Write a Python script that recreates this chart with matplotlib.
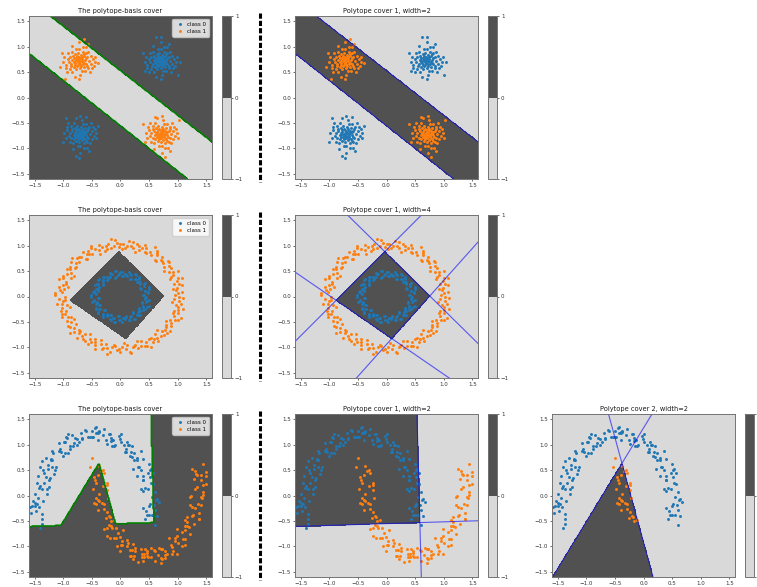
#--------------------- LIBRARIES ---------------------#

import numpy as np
import matplotlib.pyplot as plt
from matplotlib.lines import Line2D

#-----------------------------------------------------#

# point clouds, "x,y" pairs in hundredths
XOR_C0 = (
    "70,72 74,75 67,70 72,66 64,78 77,70 69,80 62,68 80,74 73,84 66,62 58,74 82,65 71,58 54,80 76,90 "
    "84,80 60,60 68,88 52,70 87,72 78,60 63,85 56,66 75,79 65,74 72,71 79,68 61,77 68,64 50,76 90,66 "
    "74,52 57,90 82,88 47,64 85,58 70,95 64,55 94,76 54,56 76,66 66,82 59,82 81,78 73,62 67,76 71,77 "
    "78,82 62,72 69,68 44,80 92,58 76,100 58,50 86,90 51,88 80,52 65,96 97,70 42,70 72,45 90,82 55,62 "
    "84,62 63,64 75,72 68,73 60,70 79,86 46,58 88,50 70,108 95,62 49,50 81,100 62,40 98,80 40,88 70,36 "
    "85,105 57,102 100,45 62,118 43,52 104,70 71,118 "
    "-70,-72 -66,-75 -73,-70 -68,-66 -76,-78 -63,-70 -71,-80 -78,-68 -60,-74 -67,-84 -74,-62 -82,-74 "
    "-58,-65 -69,-58 -86,-80 -64,-90 -56,-80 -80,-60 -72,-88 -88,-70 -53,-72 -62,-60 -77,-85 -84,-66 "
    "-65,-79 -75,-74 -68,-71 -61,-68 -79,-77 -72,-64 -90,-76 -50,-66 -66,-52 -83,-90 -58,-88 -93,-64 "
    "-55,-58 -70,-95 -76,-55 -46,-76 -86,-56 -64,-66 -74,-82 -81,-82 -59,-78 -67,-62 -73,-76 -69,-77 "
    "-62,-82 -78,-72 -71,-68 -96,-80 -48,-58 -64,-100 -82,-50 -54,-90 -89,-88 -60,-52 -75,-96 -43,-70 "
    "-98,-70 -68,-45 -50,-82 -85,-62 -56,-62 -77,-64 -65,-72 -72,-73 -80,-70 -61,-86 -94,-58 -52,-50 "
    "-70,-108 -45,-62 -91,-50 -59,-100 -78,-40 -42,-80 -100,-88 -70,-36 -55,-105 -83,-102 -60,-38 "
    "-95,-40 -40,-55 -78,-114 -72,-118"
)
XOR_C1 = (
    "-72,72 -68,75 -75,70 -70,66 -78,78 -65,70 -73,80 -80,68 -62,74 -69,84 -76,62 -84,74 -60,65 -71,58 "
    "-88,80 -66,90 -58,80 -82,60 -74,88 -90,70 -55,72 -64,60 -79,85 -86,66 -67,79 -77,74 -70,71 -63,68 "
    "-81,77 -74,64 -92,76 -52,66 -68,52 -85,90 -60,88 -95,64 -57,58 -72,95 -78,55 -48,76 -88,56 -66,66 "
    "-76,82 -83,82 -61,78 -69,62 -75,76 -71,77 -64,82 -80,72 -73,68 -98,80 -50,58 -66,100 -84,50 -56,90 "
    "-91,88 -62,52 -77,96 -45,70 -100,70 -70,45 -52,82 -87,62 -58,62 -79,64 -67,72 -74,73 -82,70 -63,86 "
    "-96,58 -54,50 -72,108 -47,62 -93,50 -61,100 -80,40 -44,80 -102,88 -72,36 -57,105 -85,102 -64,115 "
    "-97,37 -40,67 -105,60 "
    "72,-72 76,-75 69,-70 74,-66 66,-78 79,-70 71,-80 64,-68 82,-74 75,-84 68,-62 60,-74 84,-65 73,-58 "
    "56,-80 78,-90 86,-80 62,-60 70,-88 54,-70 89,-72 80,-60 65,-85 58,-66 77,-79 67,-74 74,-71 81,-68 "
    "63,-77 70,-64 52,-76 92,-66 76,-52 59,-90 84,-88 49,-64 87,-58 72,-95 66,-55 96,-76 56,-56 78,-66 "
    "68,-82 61,-82 83,-78 75,-62 69,-76 73,-77 80,-82 64,-72 71,-68 46,-80 94,-58 78,-100 60,-50 88,-90 "
    "53,-88 82,-52 67,-96 99,-70 44,-70 74,-45 92,-82 57,-62 86,-62 65,-64 77,-72 70,-73 62,-70 81,-86 "
    "48,-58 90,-50 72,-108 97,-62 51,-50 83,-100 64,-40 100,-80 42,-88 72,-36 87,-105 59,-102 102,-45 "
    "78,-116 40,-52 61,-38"
)

RING_C0 = (
    "45,0 40,3 48,9 42,11 49,18 34,16 41,24 34,24 34,29 28,28 32,38 25,35 26,45 16,34 16,44 11,41 "
    "8,44 3,40 0,49 -4,43 -9,51 -10,37 -16,44 -18,38 -23,39 -23,33 -31,38 -30,30 -40,33 -31,22 -41,24 "
    "-38,18 -42,15 -39,10 -48,9 -43,4 -52,0 -38,-3 -46,-8 -41,-11 -42,-15 -36,-17 -42,-25 -35,-25 "
    "-40,-33 -27,-27 -30,-36 -24,-34 -23,-39 -17,-36 -17,-46 -11,-42 -9,-51 -3,-38 0,-47 4,-42 8,-44 "
    "10,-39 17,-46 18,-39 26,-45 22,-31 30,-36 30,-30 34,-29 33,-23 42,-25 39,-18 49,-18 37,-10 46,-8 "
    "42,-4 "
    "41,2 48,6 43,10 49,15 36,15 41,21 42,27 34,26 30,28 32,35 27,35 27,43 18,35 18,43 15,48 9,42 "
    "5,41 2,48 -2,44 -7,51 -8,38 -14,44 -19,46 -20,38 -22,35 -29,38 -30,32 -38,34 -31,24 -39,25 "
    "-44,23 -40,16 -39,12 -47,10 -44,6 -51,2 -39,-2 -46,-6 -49,-11 -41,-13 -38,-16 -43,-22 -37,-24 "
    "-40,-31 -29,-26 -31,-34 -30,-40 -23,-36 -19,-36 -18,-44 -13,-42 -11,-50 -5,-39 -2,-46 2,-50 6,-43 "
    "9,-40 14,-46 17,-41 24,-45 21,-33 28,-36 34,-37 32,-29 33,-25 40,-26 39,-20 47,-20 37,-12 45,-10 "
    "50,-7 43,-2"
)
RING_C1 = (
    "102,0 95,3 108,9 97,12 98,17 108,23 93,25 99,30 100,36 87,35 92,43 100,51 84,49 89,56 84,59 76,57 "
    "83,69 74,66 71,71 72,78 60,72 63,81 63,89 53,82 51,88 45,85 44,95 43,102 33,91 32,99 28,103 22,96 "
    "18,99 15,108 8,95 5,104 "
    "0,103 -3,97 -10,110 -12,99 -17,95 -22,104 -26,99 -27,90 -37,101 -37,92 -44,94 -51,100 -49,84 "
    "-56,89 -58,83 -66,87 -61,73 -69,77 -76,76 -72,67 -78,66 -87,68 -79,55 -88,57 -94,54 -87,46 -93,44 "
    "-87,37 -100,36 -107,35 -95,25 -101,23 -107,19 -99,14 -102,9 -115,6 "
    "-97,0 -107,-4 -101,-9 -111,-14 -94,-16 -102,-22 -104,-28 -95,-29 -97,-35 -102,-41 -87,-41 -94,-48 "
    "-87,-51 -92,-58 -77,-54 -82,-62 -82,-69 -73,-66 -72,-72 -76,-81 -62,-74 -65,-83 -62,-88 -54,-83 "
    "-52,-89 -45,-84 -45,-96 -44,-104 -34,-94 -33,-103 -25,-93 -23,-101 -19,-108 -14,-100 -9,-98 -6,-106 "
    "0,-109 3,-100 9,-104 12,-95 19,-110 21,-100 25,-95 31,-102 35,-97 35,-87 46,-98 45,-89 49,-84 "
    "56,-90 59,-84 66,-88 61,-73 70,-77 76,-76 72,-68 77,-65 86,-67 79,-55 88,-57 89,-52 87,-46 100,-46 "
    "93,-39 91,-33 101,-33 100,-27 109,-25 97,-17 106,-15 102,-9 94,-5 "
    "100,6 92,14 103,25 108,36 89,39 91,49 76,50 85,68 73,69 62,70 63,85 60,97 43,87 38,96 26,87 "
    "22,107 11,99 2,93 -6,106 -17,113 -23,94 -33,98 -36,83 -52,96 -55,83 -58,73 -73,77 -85,76 -78,58 "
    "-88,54 -81,41 -101,40 -96,28 -91,19 -105,12 -114,3 -97,-6 -102,-15 -88,-21 -103,-35 -92,-40 "
    "-82,-44 -88,-59 -89,-71 -70,-67 -68,-77 -54,-73 -57,-93 -45,-90 -34,-86 -30,-102 -23,-112 -11,-96 "
    "-3,-103 6,-91 16,-108 23,-97 29,-88 42,-97 54,-100 54,-81 64,-81 63,-66 82,-72 80,-60 79,-49 "
    "95,-47 106,-42 93,-28 101,-20 90,-10 109,-3"
)

MOON_C0 = (
    "60,-57 49,-38 55,-39 43,-46 45,-31 64,-41 47,-38 59,-19 67,-12 40,-24 60,-29 52,-16 50,-21 55,-2 "
    "39,8 62,-9 60,7 63,-6 53,24 43,15 36,13 40,31 57,22 48,12 48,45 52,36 40,31 56,44 35,50 39,39 "
    "54,52 29,39 51,51 50,62 33,56 39,72 30,56 21,53 20,75 24,70 36,87 29,74 29,70 9,85 7,85 14,99 "
    "13,99 24,83 16,77 19,85 20,97 11,106 10,91 -1,110 1,105 -11,98 -13,109 6,99 -15,98 -3,117 1,121 "
    "-26,109 -9,99 -17,112 -23,102 -18,121 -37,125 -14,108 -20,120 -17,107 -29,131 -39,122 -49,114 "
    "-45,132 -31,118 -40,108 -43,134 -39,125 -53,114 -37,127 -61,126 -57,115 -43,123 -68,110 -48,115 "
    "-49,126 -68,113 -62,129 -73,106 -82,103 -84,118 -80,113 -69,123 -76,110 -76,99 -96,114 -99,106 "
    "-92,120 -94,113 -83,97 -91,84 -88,92 -88,97 -97,106 -97,84 -108,103 -106,91 -118,84 -119,88 "
    "-100,78 -120,69 -108,88 -104,85 -131,73 -113,56 -121,69 -126,52 -121,71 -138,68 -115,51 -119,56 "
    "-116,43 -126,60 -136,51 -145,38 -141,56 -124,35 -133,25 -134,45 -130,36 -141,18 -125,31 -146,25 "
    "-142,14 -125,16 -150,3 -128,2 -129,13 -144,-4 -138,12 -146,-17 -155,-20 -153,-10 -149,-15 "
    "-135,-10 -142,-23 -138,-37 -158,-22 -157,-34 -150,-20 -148,-31 -137,-47 -141,-64 -138,-56"
)
MOON_C1 = (
    "-53,55 -49,73 -30,50 -39,40 -38,58 -34,49 -44,31 -28,44 -46,36 -42,25 -23,25 -48,12 -23,10 -24,21 "
    "-37,3 -31,19 -37,-11 -46,-14 -43,-4 -39,-9 -22,-4 -29,-17 -23,-32 -43,-17 -40,-29 -33,-15 -29,-26 "
    "-18,-42 -20,-58 -17,-50 -11,-49 -20,-40 -14,-64 -25,-45 -17,-59 -29,-66 -24,-63 -5,-73 -19,-83 "
    "-7,-64 4,-68 -23,-80 1,-97 -7,-84 -6,-100 -1,-81 -12,-83 11,-100 13,-94 16,-107 12,-88 2,-97 "
    "-1,-108 3,-90 26,-108 17,-118 21,-95 25,-104 19,-118 35,-105 20,-107 24,-118 46,-112 21,-125 "
    "48,-120 47,-109 37,-121 43,-105 40,-128 31,-131 37,-115 41,-120 60,-108 53,-121 61,-129 41,-114 "
    "46,-118 53,-104 59,-107 70,-123 70,-132 73,-124 81,-115 72,-106 78,-122 67,-103 77,-109 65,-116 "
    "71,-105 90,-115 77,-116 89,-97 100,-93 73,-105 98,-114 90,-101 91,-109 96,-90 85,-83 108,-100 "
    "110,-85 113,-98 108,-71 98,-80 95,-83 99,-65 121,-75 112,-85 116,-53 120,-62 113,-68 129,-55 "
    "112,-49 116,-60 137,-46 112,-59 138,-46 137,-35 125,-40 131,-24 126,-39 117,-42 121,-18 125,-23 "
    "142,-4 135,-17 141,-18 121,-3 123,-1 130,13 133,17 144,1 141,-2 144,6 149,22 140,31 144,21 133,40 "
    "140,40 128,33 130,48 149,38 132,42 144,61 149,47 125,53"
)

# cuts: two points on the line and the side that is kept (sign of the cross product)
XOR_CUTS = [((-1.227, 1.6), (1.6, -0.871), -1),
            ((-1.6, 0.865), (1.174, -1.6), 1)]
RING_CUTS = [((-0.03, 0.88), (0.757, 0.01), -1),
             ((0.757, 0.01), (0.092, -0.825), -1),
             ((0.092, -0.825), (-0.88, -0.075), -1),
             ((-0.88, -0.075), (-0.03, 0.88), -1)]
MOON_CUTS_1 = [((0.533, 1.6), (0.609, -1.6), -1),
               ((-1.6, -0.608), (1.6, -0.496), 1)]
MOON_CUTS_2 = [((-1.59, -1.6), (0.149, 1.6), -1),
               ((0.167, -1.6), (-0.612, 1.6), 1)]

LIMS = (-1.6, 1.6)
TICKS = [-1.5, -1.0, -0.5, 0.0, 0.5, 1.0, 1.5]
LEVELS = [-1, 0, 1]

#-----------------------------------------------------#

def pts(s):
    return np.array(s.replace(',', ' ').split(), dtype=float).reshape(-1, 2) / 100


def inside(cuts, x, y):
    mask = np.ones(np.shape(x), dtype=bool)
    for (x1, y1), (x2, y2), side in cuts:
        cross = (x2 - x1) * (y - y1) - (y2 - y1) * (x - x1)
        mask &= side * cross > 0
    return mask


W, H = 757, 587
fig = plt.figure(figsize=(W / 100, H / 100), dpi=100)

ROW_TOP = [16, 215, 414]
COL_LEFT = [29, 295, 552]
AX_W, AX_H = 183, 163
CB_OFF, CB_W = 193, 9
FS = 4.0


def px_axes(left, top, width, height):
    return fig.add_axes([left / W, 1 - (top + height) / H, width / W, height / H])


g = np.linspace(LIMS[0], LIMS[1], 220)
gx, gy = np.meshgrid(g, g)

xor0, xor1 = pts(XOR_C0), pts(XOR_C1)
ring0, ring1 = pts(RING_C0), pts(RING_C1)
moon0, moon1 = pts(MOON_C0), pts(MOON_C1)

band = inside(XOR_CUTS, gx, gy)
diamond = inside(RING_CUTS, gx, gy)
cov1 = inside(MOON_CUTS_1, gx, gy)
cov2 = inside(MOON_CUTS_2, gx, gy)
moon1_in_cov1 = moon1[inside(MOON_CUTS_1, moon1[:, 0], moon1[:, 1])]

panels = [
    # row, col, title, field, class 0, class 1, cut lines, edge, legend
    (0, 0, "The polytope-basis cover", np.where(band, -1, 1), xor0, xor1, [], True, True),
    (0, 1, "Polytope cover 1, width=2", np.where(band, 1, -1), xor0, xor1, XOR_CUTS, False, False),
    (1, 0, "The polytope-basis cover", np.where(diamond, 1, -1), ring0, ring1, [], False, True),
    (1, 1, "Polytope cover 1, width=4", np.where(diamond, 1, -1), ring0, ring1, RING_CUTS, False, False),
    (2, 0, "The polytope-basis cover", np.where(cov1 & ~cov2, -1, 1), moon0, moon1, [], True, True),
    (2, 1, "Polytope cover 1, width=2", np.where(cov1, 1, -1), moon0, moon1, MOON_CUTS_1, False, False),
    (2, 2, "Polytope cover 2, width=2", np.where(cov2, 1, -1), moon0, moon1_in_cov1, MOON_CUTS_2, False, False),
]

for row, col, title, field, c0, c1, cuts, edge, legend in panels:
    left, top = COL_LEFT[col], ROW_TOP[row]
    ax = px_axes(left, top, AX_W, AX_H)
    cs = ax.contourf(gx, gy, field, levels=LEVELS, cmap='Greys')
    if edge:
        ax.contour(gx, gy, field, levels=[0], colors='green', linewidths=1.2)
    for p1, p2, _ in cuts:
        ax.axline(p1, p2, color='blue', alpha=0.6, lw=0.8)
    ax.scatter(c0[:, 0], c0[:, 1], s=4.5, c='C0', linewidths=0, label='class 0')
    ax.scatter(c1[:, 0], c1[:, 1], s=4.5, c='C1', linewidths=0, label='class 1')
    ax.set_xlim(LIMS)
    ax.set_ylim(LIMS)
    ax.set_xticks(TICKS)
    ax.set_yticks(TICKS)
    ax.tick_params(labelsize=FS, length=1.6, width=0.5, pad=1.2, colors='0.2')
    for sp in ax.spines.values():
        sp.set_color('0.45')
        sp.set_linewidth(0.7)
    ax.set_title(title, fontsize=FS * 1.2, pad=2.4, color='0.1')
    if legend:
        ax.legend(loc='upper right', fontsize=FS, markerscale=1.0, handletextpad=0.4,
                  borderpad=0.5, labelspacing=0.4, handlelength=1.8, borderaxespad=0.5)

    cax = px_axes(left + CB_OFF, top, CB_W, AX_H)
    cb = fig.colorbar(cs, cax=cax, ticks=LEVELS)
    cb.outline.set_edgecolor('0.45')
    cb.outline.set_linewidth(0.7)
    cax.tick_params(labelsize=FS, length=1.6, width=0.5, pad=1.2, colors='0.2')

# dashed separators between the basis cover and the single covers
for top in ROW_TOP:
    y0 = 1 - (top - 3) / H
    y1 = max(1 - (top + AX_H + 3) / H, 0)
    fig.add_artist(Line2D([260 / W, 260 / W], [y0, y1], transform=fig.transFigure,
                          color='black', lw=2.2, linestyle=(0, (1.7, 0.7))))

fig.savefig('out.png', dpi=100)
